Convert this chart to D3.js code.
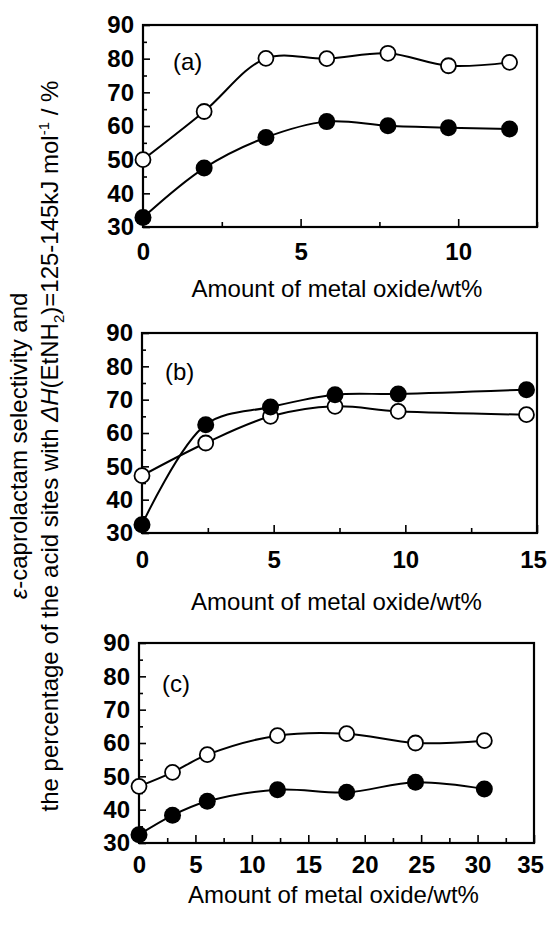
<!DOCTYPE html>
<html>
<head>
<meta charset="utf-8">
<script src="https://cdn.jsdelivr.net/npm/d3@7"></script>
<style>
  body { margin: 0; background: #fff; }
  svg { display: block; font-family: "Liberation Sans", Arial, sans-serif; }
  .tick text { font-size: 24px; font-weight: bold; fill: #000; }
  .tick line { stroke: #000; stroke-width: 1.6; }
</style>
</head>
<body>
<div id="chart"></div>
<script>
// panel (a)
var xA = [0, 1.94, 3.9, 5.83, 7.77, 9.69, 11.63];
var openA = [50, 64.3, 80.1, 80, 81.6, 77.9, 78.9];
var filledA = [32.8, 47.5, 56.6, 61.3, 60.1, 59.5, 59.1];

// panel (b)
var xB = [0, 2.42, 4.88, 7.33, 9.73, 14.6];
var openB = [47.2, 57, 65, 68, 66.5, 65.5];
var filledB = [32.5, 62.5, 67.8, 71.5, 71.7, 73];

// panel (c)
var xC = [0, 2.97, 6.05, 12.27, 18.4, 24.5, 30.6];
var openC = [47, 51.2, 56.5, 62.2, 62.8, 60, 60.7];
var filledC = [32.5, 38.3, 42.5, 46, 45.2, 48.2, 46.2];

var yTicks = [30, 40, 50, 60, 70, 80, 90];
var yMinor = [35, 45, 55, 65, 75, 85];
var xTicksA = [0, 5, 10];
var xMinorA = [2.5, 7.5, 12.5];
var xTicksB = [0, 5, 10, 15];
var xMinorB = [2.5, 7.5, 12.5];
var xTicksC = [0, 5, 10, 15, 20, 25, 30, 35];
var xMinorC = [2.5, 7.5, 12.5, 17.5, 22.5, 27.5, 32.5];

var xTitle = 'Amount of metal oxide/wt%';

var width = 549, height = 927;

var svg = d3.select('#chart').append('svg')
  .attr('width', width)
  .attr('height', height);

var panels = [
  { label: '(a)', x: xA, open: openA, filled: filledA, xMax: 12.5, ticks: xTicksA, minor: xMinorA,
    left: 143, right: 537, top: 25, bottom: 227, tickBase: 260, titleBase: 297, labelX: 30, labelY: 45 },
  { label: '(b)', x: xB, open: openB, filled: filledB, xMax: 15, ticks: xTicksB, minor: xMinorB,
    left: 142, right: 537, top: 333, bottom: 533, tickBase: 568, titleBase: 610, labelX: 23, labelY: 47 },
  { label: '(c)', x: xC, open: openC, filled: filledC, xMax: 35, ticks: xTicksC, minor: xMinorC,
    left: 139, right: 534, top: 643, bottom: 843, tickBase: 873, titleBase: 903, labelX: 23, labelY: 49 }
];

var drawPanel = function(p) {
  var w = p.right - p.left, h = p.bottom - p.top;
  var x = d3.scaleLinear().domain([0, p.xMax]).range([0, w]);
  var y = d3.scaleLinear().domain([30, 90]).range([h, 0]);

  var g = svg.append('g').attr('transform', 'translate(' + p.left + ',' + p.top + ')');

  // x axis, ticks pointing inward
  var pad = p.tickBase - p.bottom - 17;
  var xAxis = g.append('g')
    .attr('transform', 'translate(0,' + h + ')')
    .call(d3.axisBottom(x).tickValues(p.ticks).tickSize(-8).tickPadding(pad).tickFormat(d3.format('d')))
    .call(function(a) { a.select('.domain').remove(); });
  // keep the last label inside the page
  xAxis.selectAll('.tick text').filter(function(d) { return d === p.xMax; }).attr('dx', -4);

  g.append('g')
    .attr('transform', 'translate(0,' + h + ')')
    .call(d3.axisBottom(x).tickValues(p.minor).tickSize(-5).tickFormat(''))
    .call(function(a) { a.select('.domain').remove(); });

  // y axis
  g.append('g')
    .call(d3.axisLeft(y).tickValues(yTicks).tickSize(-7).tickPadding(9))
    .call(function(a) { a.select('.domain').remove(); });
  g.append('g')
    .call(d3.axisLeft(y).tickValues(yMinor).tickSize(-4).tickFormat(''))
    .call(function(a) { a.select('.domain').remove(); });

  // frame
  g.append('rect')
    .attr('width', w).attr('height', h)
    .attr('fill', 'none').attr('stroke', '#000').attr('stroke-width', 2.2);

  g.append('text')
    .attr('x', p.labelX)
    .attr('y', p.labelY)
    .attr('font-size', 24)
    .text(p.label);

  var line = d3.line().curve(d3.curveCatmullRom.alpha(0.5))
    .x(function(d) { return x(d[0]); })
    .y(function(d) { return y(d[1]); });

  var openPts = p.x.map(function(v, i) { return [v, p.open[i]]; });
  var filledPts = p.x.map(function(v, i) { return [v, p.filled[i]]; });

  g.append('path').datum(openPts).attr('d', line)
    .attr('fill', 'none').attr('stroke', '#000').attr('stroke-width', 2);
  g.append('path').datum(filledPts).attr('d', line)
    .attr('fill', 'none').attr('stroke', '#000').attr('stroke-width', 2);

  g.selectAll('circle.open').data(openPts).enter().append('circle')
    .attr('class', 'open')
    .attr('cx', function(d) { return x(d[0]); })
    .attr('cy', function(d) { return y(d[1]); })
    .attr('r', 7.5)
    .attr('fill', '#fff').attr('stroke', '#000').attr('stroke-width', 1.8);

  g.selectAll('circle.filled').data(filledPts).enter().append('circle')
    .attr('class', 'filled')
    .attr('cx', function(d) { return x(d[0]); })
    .attr('cy', function(d) { return y(d[1]); })
    .attr('r', 8.5)
    .attr('fill', '#000');

  svg.append('text')
    .attr('x', p.left + w / 2 - 3)
    .attr('y', p.titleBase)
    .attr('text-anchor', 'middle')
    .attr('font-size', 24)
    .text(xTitle);
};

panels.forEach(drawPanel);

// shared y label, two rotated lines
var l1 = svg.append('text')
  .attr('transform', 'translate(27,446) rotate(-90)')
  .attr('text-anchor', 'middle')
  .attr('font-size', 24);
l1.append('tspan').attr('font-style', 'italic').text('ε');
l1.append('tspan').text('-caprolactam selectivity and');

var l2 = svg.append('text')
  .attr('transform', 'translate(58,446) rotate(-90)')
  .attr('text-anchor', 'middle')
  .attr('font-size', 24);
l2.append('tspan').text('the percentage of the acid sites with ');
l2.append('tspan').attr('font-style', 'italic').text('ΔH');
l2.append('tspan').text('(EtNH');
l2.append('tspan').attr('font-size', 15).attr('dy', 6).text('2');
l2.append('tspan').attr('dy', -6).text(')=125-145kJ mol');
l2.append('tspan').attr('font-size', 15).attr('dy', -9).text('-1');
l2.append('tspan').attr('dy', 9).text(' / %');
</script>
</body>
</html>
